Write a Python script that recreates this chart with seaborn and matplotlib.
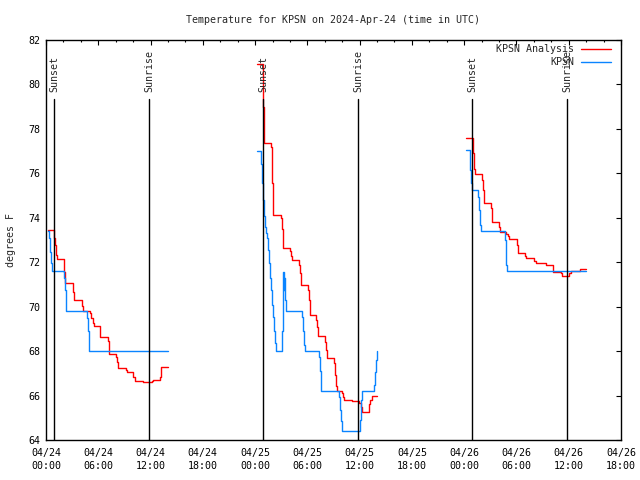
import pandas as pd
import matplotlib
matplotlib.use("Agg")
import matplotlib.pyplot as plt
import matplotlib.dates as mdates
from matplotlib.lines import Line2D
import seaborn as sns

# --------- Data (hours after 2024-04-24 00:00 UTC, degrees F) ---------
START = pd.Timestamp("2024-04-24 00:00")

anl_hours_d1 = [0.27, 0.96, 1.07, 1.18, 1.30, 2.10, 2.22, 3.06, 3.18, 4.10, 4.21, 5.05, 5.17, 5.36,
                5.55, 6.17, 7.08, 7.20, 8.07, 8.19, 8.30, 9.18, 9.30, 10.03, 10.22, 11.17, 12.13,
                12.32, 13.09, 13.20, 13.97]
anl_temp_d1 = [73.43, 73.1, 72.77, 72.32, 72.13, 71.57, 71.05, 70.67, 70.3, 70.03, 69.8, 69.7, 69.5, 69.28,
               69.13, 68.63, 68.47, 67.87, 67.72, 67.52, 67.25, 67.15, 67.06, 66.85, 66.65, 66.6, 66.65,
               66.68, 66.85, 67.3, 67.3]

anl_hours_d2 = [24.26, 24.95, 25.03, 25.83, 25.98, 26.10, 26.98, 27.06, 27.17, 28.01, 28.13, 28.24, 29.05,
                29.16, 29.24, 29.31, 30.08, 30.16, 30.28, 30.35, 30.96, 31.08, 31.19, 31.27, 32.03, 32.15,
                32.26, 33.07, 33.18, 33.30, 33.37, 33.98, 34.10, 34.25, 35.09, 35.98, 36.16, 36.28, 37.12,
                37.24, 37.39, 37.96]
anl_temp_d2 = [80.92, 79.0, 77.35, 77.2, 75.55, 74.13, 74.0, 73.5, 72.62, 72.52, 72.28, 72.1, 71.87,
               71.5, 71.2, 70.97, 70.75, 70.3, 69.85, 69.62, 69.4, 69.1, 68.8, 68.68, 68.42, 68.05,
               67.7, 67.45, 66.92, 66.44, 66.2, 66.1, 65.95, 65.8, 65.74, 65.65, 65.5, 65.24, 65.6,
               65.8, 65.96, 65.96]

anl_hours_d3 = [48.22, 48.99, 49.13, 49.29, 50.10, 50.21, 50.32, 51.05, 51.17, 51.24, 52.00, 52.16, 52.80,
                53.00, 53.20, 54.10, 54.23, 55.00, 55.15, 56.00, 56.26, 57.41, 58.17, 59.15, 59.24, 60.08,
                60.24, 61.31, 61.96]
anl_temp_d3 = [77.57, 76.9, 76.2, 75.97, 75.7, 75.25, 74.66, 74.42, 74.05, 73.81, 73.6, 73.36, 73.27,
               73.18, 73.04, 72.77, 72.43, 72.3, 72.17, 72.05, 71.98, 71.86, 71.57, 71.5, 71.38, 71.53,
               71.59, 71.69, 71.69]

obs_hours_d1 = [0.27, 0.38, 0.50, 0.57, 0.65, 2.07, 2.18, 2.26, 2.33, 4.71, 4.82, 4.90, 4.97, 13.97]
obs_temp_d1 = [73.4, 73.08, 72.48, 71.95, 71.6, 71.27, 70.75, 70.07, 69.8, 69.48, 68.9, 68.28, 68.0, 68.0]

obs_hours_d2 = [24.26, 24.72, 24.83, 24.91, 25.03, 25.14, 25.26, 25.37, 25.45, 25.56, 25.68, 25.79, 25.91,
                26.02, 26.14, 26.25, 26.37, 27.09, 27.21, 27.29, 27.36, 27.44, 27.55, 29.39, 29.50, 29.62,
                29.70, 31.34, 31.46, 31.53, 31.61, 33.68, 33.79, 33.87, 33.95, 36.05, 36.16, 36.28, 37.66,
                37.77, 37.85, 37.96]
obs_temp_d2 = [77.02, 76.4, 75.55, 74.8, 74.1, 73.6, 73.3, 73.08, 72.55, 71.95, 71.27, 70.75, 70.07,
               69.55, 68.9, 68.35, 68.0, 68.9, 71.57, 70.75, 71.27, 70.3, 69.8, 69.55, 68.9, 68.28,
               68.0, 67.75, 67.1, 66.47, 66.2, 65.95, 65.35, 64.85, 64.4, 64.9, 65.8, 66.2, 66.47,
               67.07, 67.6, 68.0]

obs_hours_d3 = [48.22, 48.64, 48.72, 48.83, 48.95, 49.64, 49.75, 49.86, 49.98, 52.70, 52.78, 52.85, 52.96, 62.0]
obs_temp_d3 = [77.05, 76.75, 76.15, 75.55, 75.23, 74.95, 74.35, 73.67, 73.4, 73.0, 72.47, 71.87, 71.6, 71.6]

sunset_hours = [0.95, 24.95, 48.95]
sunrise_hours = [11.86, 35.86, 59.85]

series_names = ["KPSN Analysis", "KPSN"]
series_colors = ["#ff0000", "#0a84ff"]

# --------- Build long table ---------
frames = []
for name, parts in [
    ("KPSN Analysis", [(anl_hours_d1, anl_temp_d1), (anl_hours_d2, anl_temp_d2), (anl_hours_d3, anl_temp_d3)]),
    ("KPSN", [(obs_hours_d1, obs_temp_d1), (obs_hours_d2, obs_temp_d2), (obs_hours_d3, obs_temp_d3)]),
]:
    for i, (hrs, tmp) in enumerate(parts):
        frames.append(pd.DataFrame({
            "time": START + pd.to_timedelta(hrs, unit="h"),
            "temp": tmp,
            "series": name,
            "segment": f"{name}-{i}",
        }))
df = pd.concat(frames, ignore_index=True)

# --------- Plot ---------
sns.set_style("white")
plt.rcParams["font.family"] = ["DejaVu Sans Mono"]
FS = 7.2

fig = plt.figure(figsize=(6.4, 4.8), dpi=100)
ax = fig.add_axes([46 / 640, 40 / 480, 575 / 640, 400 / 480])

sns.lineplot(data=df, x="time", y="temp", hue="series", units="segment", estimator=None,
             hue_order=series_names, palette=series_colors, drawstyle="steps-post",
             linewidth=1.0, legend=False, ax=ax)

# sunset / sunrise markers
for label, hrs in [("Sunset", sunset_hours), ("Sunrise", sunrise_hours)]:
    for h in hrs:
        t = START + pd.Timedelta(hours=h)
        ax.plot([t, t], [64, 79.35], color="black", lw=1.0)
        ax.text(t, 79.68, label, rotation=90, ha="center", va="bottom", fontsize=FS)

ax.set_xlim(START, START + pd.Timedelta(hours=66))
ax.set_ylim(64, 82)
ax.set_yticks(range(64, 83, 2))
ax.xaxis.set_major_locator(mdates.HourLocator(byhour=[0, 6, 12, 18]))
ax.xaxis.set_minor_locator(mdates.HourLocator(byhour=range(0, 24, 2)))
ax.xaxis.set_major_formatter(mdates.DateFormatter("%m/%d\n%H:%M"))

ax.tick_params(which="both", direction="in", top=True, right=True, colors="black", labelsize=FS)
ax.tick_params(which="major", length=3.3, width=0.8)
ax.tick_params(which="minor", length=1.7, width=0.8)
ax.tick_params(axis="x", pad=5.5)
ax.tick_params(axis="y", pad=4)
for s in ax.spines.values():
    s.set_color("black")
    s.set_linewidth(1.0)
fig.canvas.draw()
for lbl in ax.get_xticklabels():
    lbl.set_linespacing(1.45)

ax.set_xlabel("")
ax.set_ylabel("degrees F", fontsize=FS, labelpad=9)
ax.set_title("Temperature for KPSN on 2024-Apr-24 (time in UTC)", fontsize=FS, pad=12)

handles = [Line2D([], [], color=c, lw=1.0) for c in series_colors]
ax.legend(handles, series_names, loc="upper right", bbox_to_anchor=(611 / 640, 1 - 44 / 480),
          bbox_transform=fig.transFigure, frameon=False, markerfirst=False, fontsize=FS,
          handlelength=3.0, handletextpad=0.7, labelspacing=0.32, borderpad=0, borderaxespad=0)

fig.savefig("out.png", dpi=100)
